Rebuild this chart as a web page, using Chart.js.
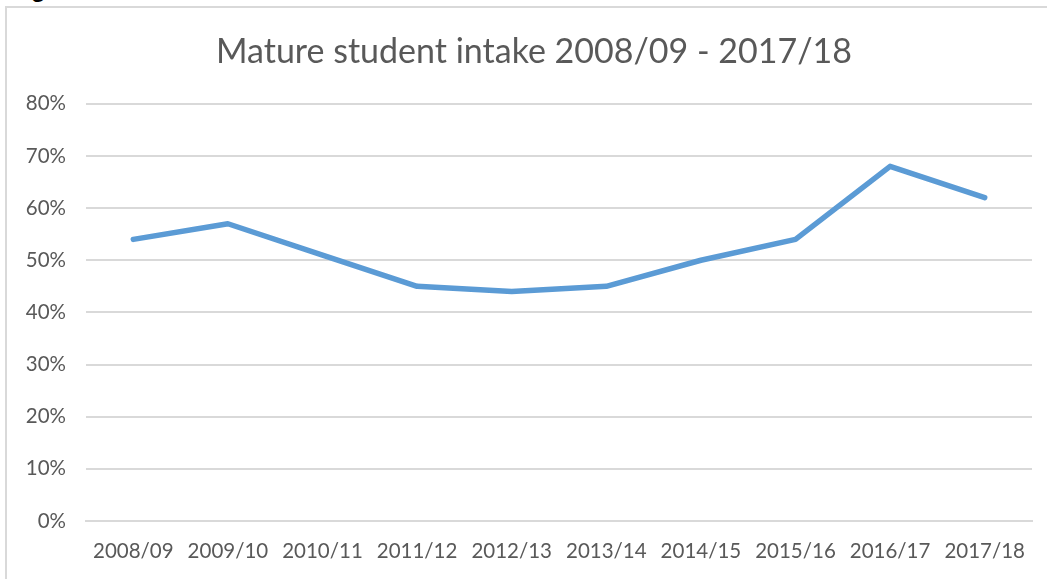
<!DOCTYPE html>
<html>
<head>
<meta charset="utf-8">
<script src="https://cdn.jsdelivr.net/npm/chart.js@4"></script>
<style>
  body { margin: 0; background: #fff; overflow: hidden; }
  .frame {
    position: absolute; left: 5px; top: 6px; width: 1100px; height: 640px;
    border-left: 2px solid #d9d9d9; border-top: 2px solid #d9d9d9;
  }
  .fig {
    position: absolute; left: 31px; top: -25px;
    font: bold 24px "Liberation Sans", Arial, sans-serif; color: #000;
  }
  .wrap { position: absolute; left: 0; top: 0; width: 1047px; height: 579px; }
</style>
</head>
<body>
<div class="frame"></div>
<div class="fig">g</div>
<div class="wrap"><canvas id="intake-chart"></canvas></div>
<script>
// Data
const years = ["2008/09", "2009/10", "2010/11", "2011/12", "2012/13", "2013/14", "2014/15", "2015/16", "2016/17", "2017/18"];
const intake = [54, 57, 51, 45, 44, 45, 50, 54, 68, 62];
const yTicks = [0, 10, 20, 30, 40, 50, 60, 70, 80];

const textColor = "#595959";
const gridColor = "#d9d9d9";

// title sits a bit right of centre in the original
const shiftTitle = {
  id: "shiftTitle",
  afterLayout: (chart) => {
    const title = chart.titleBlock;
    if (title) {
      title.left += 18;
      title.right += 18;
    }
  },
};

// Intake Chart
const intakeChart = document.querySelector("#intake-chart");
if (intakeChart) {
  new Chart(intakeChart, {
    type: "line",
    data: {
      labels: years,
      datasets: [
        {
          label: "Mature student intake",
          data: intake,
          borderColor: "#5b9bd5",
          borderWidth: 5.5,
          pointRadius: 0,
          tension: 0,
          borderCapStyle: "round",
          borderJoinStyle: "round",
        },
      ],
    },
    plugins: [shiftTitle],
    options: {
      maintainAspectRatio: false,
      responsive: true,
      animation: false,
      layout: {
        padding: { left: 0, right: 15, top: 0, bottom: 0 },
      },
      plugins: {
        legend: { display: false },
        tooltip: { enabled: false },
        title: {
          display: true,
          text: "Mature student intake 2008/09 - 2017/18",
          color: textColor,
          font: { family: "Lato", size: 34, weight: "normal" },
          padding: { top: 32, bottom: 31 },
        },
      },
      scales: {
        x: {
          offset: true,
          grid: { display: false, drawTicks: false },
          border: { display: true, color: gridColor, width: 2 },
          ticks: {
            color: textColor,
            font: { family: "Lato", size: 20.5 },
            padding: 18,
            maxRotation: 0,
            autoSkip: false,
          },
          afterFit: (scale) => {
            scale.height = 58;
          },
        },
        y: {
          min: 0,
          max: 80,
          afterBuildTicks: (scale) => {
            scale.ticks = yTicks.map((v) => ({ value: v }));
          },
          grid: { color: gridColor, lineWidth: 2, drawTicks: false },
          border: { display: false },
          ticks: {
            color: textColor,
            font: { family: "Lato", size: 20.5 },
            padding: 20,
            callback: (value) => value + "%",
          },
          afterFit: (scale) => {
            scale.width = 86;
          },
        },
      },
    },
  });
}
// End Intake Chart
</script>
</body>
</html>
